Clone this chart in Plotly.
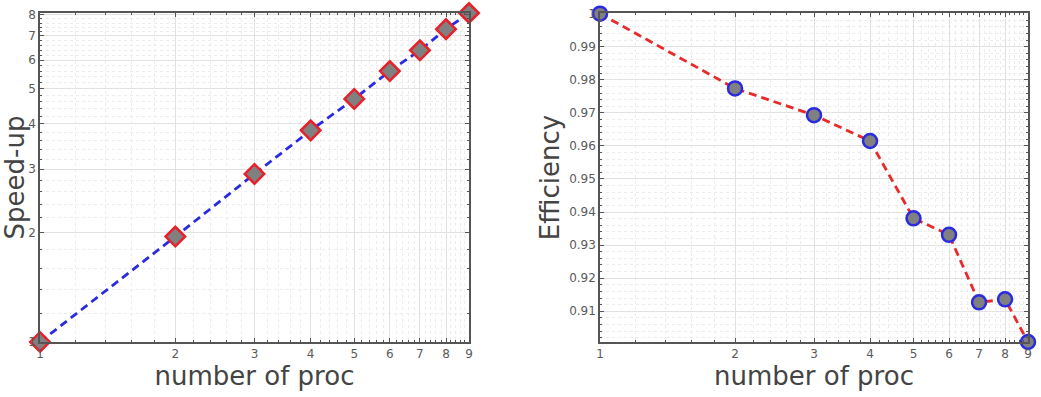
import plotly.graph_objects as go
from plotly.subplots import make_subplots
import numpy as np

procs = [1, 2, 3, 4, 5, 6, 7, 8, 9]
speedup = [1.0, 1.954, 2.91, 3.84, 4.69, 5.60, 6.39, 7.31, 8.10]
efficiency = [1.0, 0.9774, 0.9693, 0.9615, 0.9381, 0.9331, 0.9127, 0.9136, 0.9007]

x_ticks = [1, 2, 3, 4, 5, 6, 7, 8, 9]
speed_ticks = [1, 2, 3, 4, 5, 6, 7, 8]
eff_ticks = [0.91, 0.92, 0.93, 0.94, 0.95, 0.96, 0.97, 0.98, 0.99, 1.0]
eff_tick_text = ["0.91", "0.92", "0.93", "0.94", "0.95", "0.96", "0.97", "0.98", "0.99", "1"]

minor_log = [round(v, 1) for v in np.arange(1.2, 9.0, 0.2)]
minor_eff = [round(v, 3) for v in np.arange(0.902, 1.0, 0.002)]

FONT = "DejaVu Sans"
TICK_COLOR = "#5a5a5a"
TITLE_COLOR = "#444444"
AX_COLOR = "#555555"

fig = make_subplots(rows=1, cols=2)

fig.add_trace(go.Scatter(
    x=procs, y=speedup, mode="lines+markers",
    line=dict(color="#2a2ae0", width=2.8, dash="8px,5px"),
    marker=dict(symbol="diamond", size=15, color="#808080",
                line=dict(color="#e8202a", width=2.5)),
    cliponaxis=False, showlegend=False), row=1, col=1)

fig.add_trace(go.Scatter(
    x=procs, y=efficiency, mode="lines+markers",
    line=dict(color="#e82a2a", width=2.8, dash="8px,5px"),
    marker=dict(symbol="circle", size=14, color="#808080",
                line=dict(color="#2a2ae0", width=2.5)),
    cliponaxis=False, showlegend=False), row=1, col=2)

common_axis = dict(
    showline=True, linecolor=AX_COLOR, linewidth=1.5, mirror="allticks",
    ticks="inside", ticklen=4, tickcolor=AX_COLOR,
    showgrid=True, gridcolor="#e2e2e2", gridwidth=1,
    tickfont=dict(family=FONT, size=12, color=TICK_COLOR),
    zeroline=False,
)

minor_common = dict(ticks="inside", ticklen=2, tickcolor=AX_COLOR,
                    showgrid=True, gridcolor="#ececec", griddash="dot", gridwidth=1)

title_font = dict(family=FONT, size=26, color=TITLE_COLOR)

fig.update_xaxes(type="log", range=[0, np.log10(9)], tickvals=x_ticks,
                 ticktext=[str(v) for v in x_ticks],
                 title=dict(text="number of proc", font=title_font, standoff=2),
                 minor=dict(tickvals=minor_log, **minor_common),
                 **common_axis)
fig.update_xaxes(domain=[40/1041, 469/1041], row=1, col=1)
fig.update_xaxes(domain=[600/1041, 1028/1041], row=1, col=2)

fig.update_yaxes(type="log", range=[np.log10(0.9995), np.log10(8.1)], tickvals=speed_ticks,
                 ticktext=[str(v) for v in speed_ticks],
                 title=dict(text="Speed-up", font=title_font, standoff=2),
                 minor=dict(tickvals=minor_log, **minor_common),
                 row=1, col=1, **common_axis)

fig.update_yaxes(range=[0.9007, 1.0002], tickvals=eff_ticks, ticktext=eff_tick_text,
                 title=dict(text="Efficiency", font=title_font, standoff=2),
                 minor=dict(tickvals=minor_eff, **minor_common),
                 row=1, col=2, **common_axis)

fig.update_layout(
    width=1041, height=397,
    margin=dict(l=0, r=0, t=13, b=55, autoexpand=False),
    plot_bgcolor="white", paper_bgcolor="white",
    font=dict(family=FONT),
)

fig.write_html("out.html")
